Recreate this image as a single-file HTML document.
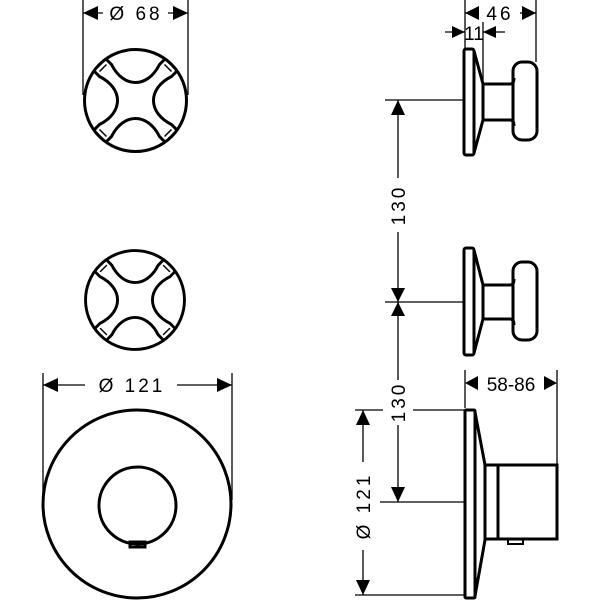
<!DOCTYPE html>
<html><head><style>body{margin:0;background:#fff}svg{display:block}text{font-family:"Liberation Sans",sans-serif;fill:#000}</style></head>
<body>
<svg width="600" height="600" viewBox="0 0 600 600" xmlns="http://www.w3.org/2000/svg">
<defs>
<g id="cross">
  <circle cx="0" cy="0" r="51" fill="none" stroke="#000" stroke-width="3"/>
  <g id="arc"><path d="M -30 -42 L -24 -36 C -12 -12, 12 -12, 24 -36 L 30 -42" fill="none" stroke="#000" stroke-width="3"/></g>
  <use href="#arc" transform="rotate(90)"/>
  <use href="#arc" transform="rotate(180)"/>
  <use href="#arc" transform="rotate(270)"/>
  <g id="tick" stroke="#000" stroke-width="1.5"><line x1="-36" y1="-29" x2="-29" y2="-36"/><line x1="-39" y1="-32" x2="-32" y2="-39"/></g>
  <use href="#tick" transform="rotate(90)"/>
  <use href="#tick" transform="rotate(180)"/>
  <use href="#tick" transform="rotate(270)"/>
</g>
</defs>
<g stroke="#000" stroke-width="1.3" fill="none">
  <line x1="83" y1="0" x2="83" y2="95"/><line x1="188" y1="0" x2="188" y2="95"/>
  <line x1="83" y1="13" x2="103" y2="13"/><line x1="168" y1="13" x2="188" y2="13"/>
  <line x1="43" y1="373" x2="43" y2="500"/><line x1="232" y1="373" x2="232" y2="500"/>
  <line x1="43" y1="385" x2="85" y2="385"/><line x1="177" y1="385" x2="232" y2="385"/>
  <line x1="465" y1="0" x2="465" y2="50"/><line x1="536" y1="0" x2="536" y2="62"/>
  <line x1="465" y1="13" x2="478" y2="13"/><line x1="520" y1="13" x2="536" y2="13"/>
  <line x1="483" y1="22" x2="483" y2="84"/>
  <line x1="445" y1="32" x2="465" y2="32"/><line x1="483" y1="32" x2="505" y2="32"/>
  <line x1="385" y1="100" x2="464" y2="100"/>
  <line x1="398" y1="100" x2="398" y2="178"/><line x1="398" y1="232" x2="398" y2="380"/>
  <line x1="385" y1="302" x2="463" y2="302"/>
  <line x1="398" y1="425" x2="398" y2="502"/>
  <line x1="380" y1="502" x2="464" y2="502"/>
  <line x1="355" y1="410" x2="383" y2="410"/><line x1="413" y1="410" x2="464" y2="410"/>
  <line x1="355" y1="595" x2="464" y2="595"/>
  <line x1="363" y1="410" x2="363" y2="462"/><line x1="363" y1="550" x2="363" y2="595"/>
  <line x1="465" y1="370" x2="465" y2="408"/><line x1="557" y1="370" x2="557" y2="465"/>
</g>
<g fill="#000">
  <polygon points="83,13 98,6 98,20"/><polygon points="188,13 173,6 173,20"/>
  <polygon points="43,385 58,378 58,392"/><polygon points="232,385 217,378 217,392"/>
  <polygon points="465,13 479,6 479,20"/><polygon points="536,13 522,6 522,20"/>
  <polygon points="465,32 452,26 452,38"/><polygon points="483,32 496,26 496,38"/>
  <polygon points="398,100 391,115 405,115"/>
  <polygon points="398,302 391,288 405,288"/><polygon points="398,302 391,316 405,316"/>
  <polygon points="398,502 391,487 405,487"/>
  <polygon points="363,410 356,425 370,425"/><polygon points="363,595 356,580 370,580"/>
  <polygon points="465,383 478,376 478,390"/><polygon points="557,383 544,376 544,390"/>
</g>
<g font-size="19" text-anchor="middle">
  <text x="136" y="20" letter-spacing="3">Ø 68</text>
  <text x="132" y="392" letter-spacing="3">Ø  121</text>
  <text x="500" y="20" letter-spacing="3">46</text>
  <text x="474" y="40" font-size="19">11</text>
  <text x="511" y="391" font-size="19">58-86</text>
  <text transform="translate(405,205) rotate(-90)" letter-spacing="3">130</text>
  <text transform="translate(405,402) rotate(-90)" letter-spacing="3">130</text>
  <text transform="translate(370,506) rotate(-90)" letter-spacing="3">Ø  121</text>
</g>
<use href="#cross" transform="translate(135.5,100.5)"/>
<use href="#cross" transform="translate(135,300) scale(0.97)"/>
<g stroke="#000" stroke-width="3" fill="none">
  <circle cx="137" cy="504" r="94"/>
  <circle cx="137.5" cy="505.5" r="38.5"/>
  <rect x="130" y="542" width="15" height="5"/>
  <rect x="464" y="49" width="10" height="106" rx="2"/>
  <path d="M474 51 L483 84 L510 84 Q514 84 514 78 M474 153 L483 120 L510 120 Q514 120 514 126 M483 84 L483 120"/>
  <rect x="513" y="62" width="24" height="78" rx="9"/>
  <rect x="464" y="248" width="10" height="107" rx="2"/>
  <path d="M474 250 L483 285 L510 285 Q514 285 514 279 M474 353 L483 319 L510 319 Q514 319 514 325 M483 285 L483 319"/>
  <rect x="513" y="262" width="24" height="78" rx="9"/>
  <rect x="465" y="410" width="10" height="188" rx="1"/>
  <path d="M475 412 L485 465 L485 540 L475 596"/>
  <rect x="485" y="465" width="72" height="74"/>
  <line x1="498" y1="465" x2="498" y2="539"/>
  <rect x="508" y="539" width="15" height="5" stroke-width="2"/>
</g>
</svg>
</body></html>
